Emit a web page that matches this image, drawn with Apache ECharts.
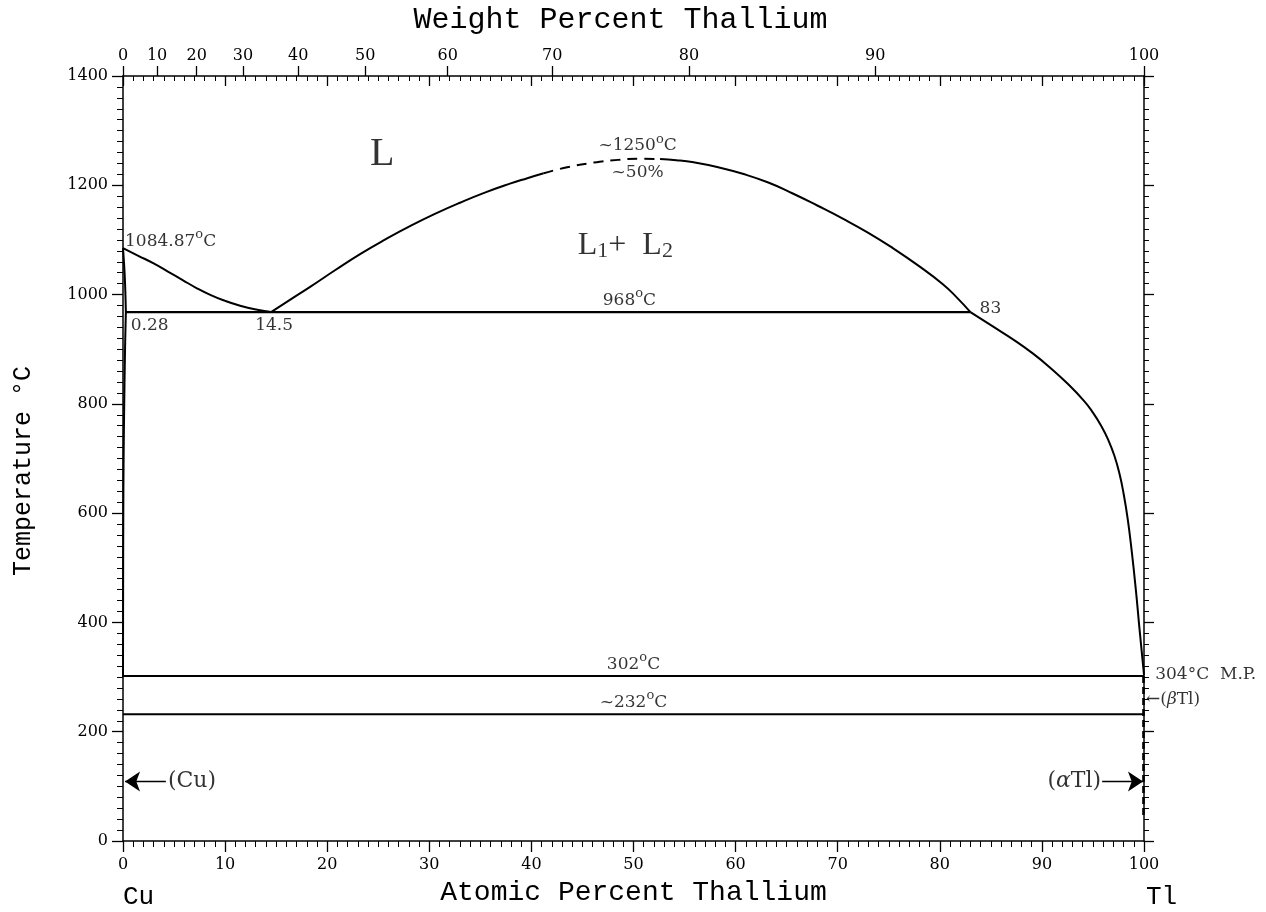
<!DOCTYPE html>
<html>
<head>
<meta charset="utf-8">
<script src="https://cdn.jsdelivr.net/npm/echarts@6/dist/echarts.min.js"></script>
<style>html,body{margin:0;padding:0;background:#fff}#c{width:1266px;height:912px}</style>
</head>
<body>
<div id="c"></div>
<script>
// ---------- data (atomic % Tl, temperature °C) ----------
const liquidusLeft = [[0,1084.87],[1.5,1071],[3,1057],[4.4,1042],[5.8,1027],[7.2,1012],[8.6,999],[10,988.5],[11.4,980],[12.9,973],[14.5,968]];
const domeLeft = [[14.5,968],[16.5,992],[18.4,1015],[20.8,1045],[23.3,1075],[25.7,1101],[28.2,1126],[30.6,1148],[33,1168],[35.5,1187],[37.9,1203],[39.6,1213],[41.2,1222]];
const domeDashed = [[41.2,1222],[43.5,1233],[46.1,1241.5],[48.5,1246.5],[50.5,1248.5],[52.6,1248]];
const domeRight = [[52.6,1248],[54.2,1246],[55.9,1242],[58.3,1233],[60.7,1221],[63.2,1205],[65.6,1185],[68,1163],[70.5,1139],[73,1113],[75.4,1085],[77.9,1053],[80.3,1019],[81.7,994],[83,968]];
const liquidusRight = [[83,968],[85,944],[87.5,914],[89.2,891],[90.7,868],[92.4,839],[94.1,806],[95.0,784],[95.8,760],[96.5,734],[97.1,705],[97.6,672],[98.0,636],[98.4,590],[98.8,530],[99.2,460],[99.55,390],[100,304]];
const solidusCu = [[0,1084.87],[0.18,1030],[0.28,968]];
const solvusCu = [[0.28,968],[0.2,900],[0.12,800],[0.06,700],[0.03,600],[0.01,450],[0,300]];
const eutectic968 = [[0.28,968],[83,968]];
const line302 = [[0,302],[100,302]];
const line232 = [[0,232],[100,232]];
const tlDashed = [[99.95,302],[99.95,42]];
const arrowCu = [[4.2,109],[0.2,109]];
const arrowAlphaTl = [[95.9,109],[99.9,109]];

const bottomTicks = [0,10,20,30,40,50,60,70,80,90,100];
const leftTicks = [0,200,400,600,800,1000,1200,1400];
const weightTicks = [0,10,20,30,40,50,60,70,80,90,100];

// [x at%, T, text, align]
const annotations = [
  [25.4,1256,'{big|L}','center'],
  [49.2,1090,'{l1|L}{sub|1}{l1|+  L}{sub|2}','center'],
  [50.4,1272,'{t|~1250}{sup|o}{t|C}','center'],
  [50.4,1223,'{t|~50%}','center'],
  [0.2,1097,'{t|1084.87}{sup|o}{t|C}','left'],
  [0.75,943,'{t|0.28}','left'],
  [14.8,943,'{t|14.5}','center'],
  [49.6,989,'{t|968}{sup|o}{t|C}','center'],
  [83.9,975,'{t|83}','left'],
  [50.0,323,'{t|302}{sup|o}{t|C}','center'],
  [50.0,254,'{t|~232}{sup|o}{t|C}','center'],
  [101.1,305,'{t|304°C  M.P.}','left'],
  [100.2,259,'{t|←(}{its|β}{t|Tl)}','left'],
  [95.8,109,'{p|(}{it|α}{p|Tl)}','right'],
  [4.4,109,'{p|(Cu)}','left']
];

// weight% -> atomic% conversion for the top axis ticks
const M_CU = 63.546, M_TL = 204.38;
function wtToAt(w){ if (w>=100) return 100; const a=w/M_TL, b=(100-w)/M_CU; return 100*a/(a+b); }
const weightTickPos = weightTicks.map(wtToAt);

const SERIF = 'DejaVu Serif';
const MONO = 'Liberation Mono';
const richStyles = {
  t:{fontFamily:SERIF,fontSize:17,color:'#000',lineHeight:26},
  its:{fontFamily:SERIF,fontSize:17,fontStyle:'italic',color:'#000',lineHeight:26},
  p:{fontFamily:SERIF,fontSize:22,color:'#000',lineHeight:28},
  it:{fontFamily:SERIF,fontSize:22,fontStyle:'italic',color:'#000',lineHeight:28},
  sup:{fontFamily:SERIF,fontSize:13,color:'#000',lineHeight:14,verticalAlign:'top'},
  big:{fontFamily:'Liberation Serif',fontSize:40,color:'#000',lineHeight:44},
  l1:{fontFamily:'Liberation Serif',fontSize:32,color:'#000',lineHeight:34},
  sub:{fontFamily:'Liberation Serif',fontSize:22,color:'#000',lineHeight:19,verticalAlign:'bottom'}
};

function lineSeries(data, opts){
  return Object.assign({
    type:'line', data:data, showSymbol:false, symbol:'none', smooth:false,
    lineStyle:{color:'#000',width:2}, animation:false, silent:true, z:3
  }, opts||{});
}
const curve = {smooth:0.5};

const chart = echarts.init(document.getElementById('c'), null, {renderer:'canvas'});
const option = {
  backgroundColor:'#fff',
  animation:false,
  grid:{left:123,right:122,top:75,bottom:70,containLabel:false},
  xAxis:[
    {type:'value',position:'bottom',min:0,max:100,interval:10,
     name:'Atomic Percent Thallium',nameLocation:'middle',nameGap:38,
     nameTextStyle:{fontFamily:MONO,fontSize:28,color:'#000'},
     axisLine:{show:true,onZero:false,lineStyle:{color:'#000',width:1.5}},
     axisTick:{show:true,inside:false,length:11,lineStyle:{color:'#000',width:1.3}},
     minorTick:{show:true,splitNumber:10,length:6,lineStyle:{color:'#000',width:1}},
     axisLabel:{show:true,margin:16,fontFamily:SERIF,fontSize:16,color:'#000',formatter:function(v){return String(v);}},
     splitLine:{show:false}},
    {type:'value',position:'top',min:0,max:100,interval:10,
     axisLine:{show:true,onZero:false,lineStyle:{color:'#000',width:1.5}},
     axisTick:{show:true,inside:true,length:10,lineStyle:{color:'#000',width:1.3}},
     minorTick:{show:true,splitNumber:10,length:5,lineStyle:{color:'#000',width:1}},
     axisLabel:{show:false},splitLine:{show:false}},
    {type:'value',position:'top',min:0,max:100,
     name:'Weight Percent Thallium',nameLocation:'middle',nameGap:41,
     nameTextStyle:{fontFamily:MONO,fontSize:30,color:'#000',padding:[0,26,0,0]},
     axisLine:{show:false,onZero:false},
     axisTick:{show:true,inside:false,length:10,customValues:weightTickPos,lineStyle:{color:'#000',width:1.3}},
     axisLabel:{show:true,margin:12,fontFamily:SERIF,fontSize:16,color:'#000',customValues:weightTickPos,
       formatter:function(v){let best=0,bd=1e9;weightTickPos.forEach(function(p,i){const d=Math.abs(p-v);if(d<bd){bd=d;best=i;}});return String(weightTicks[best]);}},
     splitLine:{show:false}}
  ],
  yAxis:[
    {type:'value',position:'left',min:0,max:1400,interval:200,
     axisLine:{show:true,onZero:false,lineStyle:{color:'#000',width:1.5}},
     axisTick:{show:true,inside:false,length:11,lineStyle:{color:'#000',width:1.3}},
     minorTick:{show:true,splitNumber:10,length:6,lineStyle:{color:'#000',width:1}},
     axisLabel:{show:true,margin:15,fontFamily:SERIF,fontSize:16,color:'#000',formatter:function(v){return String(v);}},
     splitLine:{show:false}},
    {type:'value',position:'right',min:0,max:1400,interval:200,
     axisLine:{show:true,onZero:false,lineStyle:{color:'#000',width:1.5}},
     axisTick:{show:true,inside:false,length:10,lineStyle:{color:'#000',width:1.3}},
     minorTick:{show:true,splitNumber:10,length:5,lineStyle:{color:'#000',width:1}},
     axisLabel:{show:false},splitLine:{show:false}}
  ],
  graphic:[
    {type:'text',x:23,y:471,rotation:Math.PI/2,style:{text:'Temperature °C',font:'25px "Liberation Mono"',fill:'#000',align:'center',verticalAlign:'middle'}},
    {type:'text',left:123,top:884,style:{text:'Cu',font:'26px "Liberation Mono"',fill:'#000'}},
    {type:'text',left:1146,top:884,style:{text:'Tl',font:'26px "Liberation Mono"',fill:'#000'}}
  ],
  series:[
    lineSeries(liquidusLeft,curve),
    lineSeries(domeLeft,curve),
    lineSeries(domeDashed,Object.assign({lineStyle:{color:'#000',width:2,type:[10,7]}},curve)),
    lineSeries(domeRight,curve),
    lineSeries(liquidusRight,curve),
    lineSeries(solidusCu,{smooth:0.4}),
    lineSeries(solvusCu,{smooth:0.4}),
    lineSeries(eutectic968,{lineStyle:{color:'#000',width:2.2}}),
    lineSeries(line302,{lineStyle:{color:'#000',width:1.8}}),
    lineSeries(line232,{lineStyle:{color:'#000',width:1.8}}),
    lineSeries(tlDashed,{lineStyle:{color:'#000',width:2.6,type:[7,4]},z:4}),
    {type:'lines',coordinateSystem:'cartesian2d',silent:true,animation:false,z:4,
     symbol:['none','arrow'],symbolSize:[0,15],
     lineStyle:{color:'#000',width:1.3,opacity:1},
     data:[{coords:arrowCu},{coords:arrowAlphaTl}]},
    {type:'scatter',symbolSize:0,silent:true,animation:false,clip:false,z:5,
     data:annotations.map(function(a){return {value:[a[0],a[1]],
       label:{show:true,position:'inside',align:a[3],verticalAlign:'middle',formatter:a[2],rich:richStyles,color:'#000'}};})}
  ]
};
chart.setOption(option);
</script>
</body>
</html>
